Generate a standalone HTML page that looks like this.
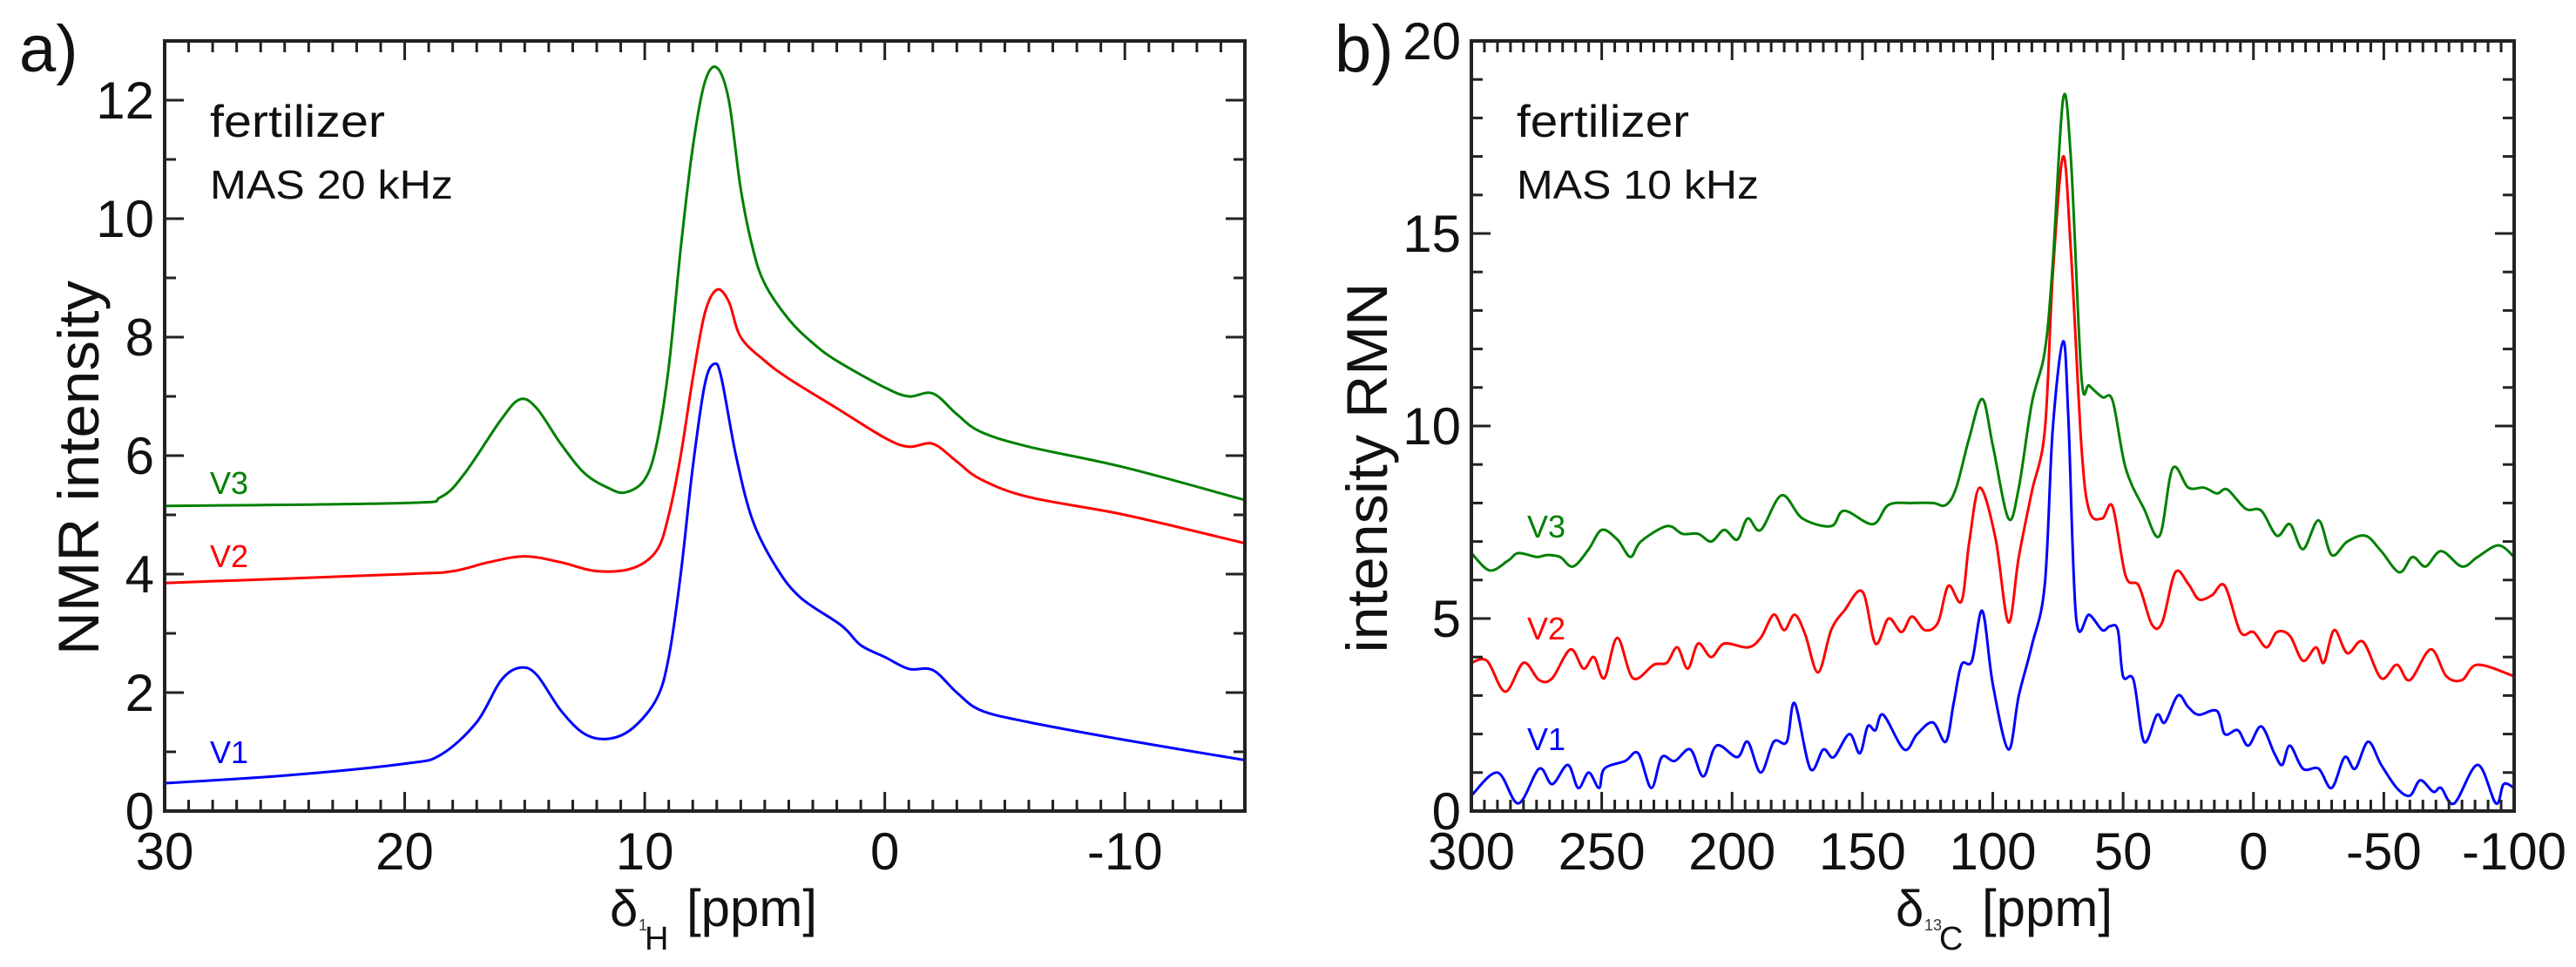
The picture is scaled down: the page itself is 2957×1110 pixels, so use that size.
<!DOCTYPE html>
<html><head><meta charset="utf-8"><style>
html,body{margin:0;padding:0;background:#fff}
svg{display:block;font-family:"Liberation Sans",sans-serif}
</style></head><body>
<svg id="fig" width="2957" height="1110" viewBox="0 0 2957 1110" xmlns="http://www.w3.org/2000/svg">
<g id="pa"></g>
<g id="pb"></g>
</svg>
<script>
// Panel a data (1H NMR)
const aV1x=[30,25,20,18.5,17,16,15.2,14.5,13.5,12.5,11.5,10.5,9.5,9,8.5,8,7.5,7.1,6.8,6.2,5.5,4.5,3.5,1.8,1,0,-1,-2,-3,-4,-6,-10,-15];
const aV1y=[0.47,0.6,0.8,0.95,1.5,2.2,2.42,2.3,1.7,1.3,1.22,1.4,1.9,2.6,4.0,5.8,7.2,7.55,7.3,6.0,4.9,4.1,3.6,3.13,2.8,2.6,2.4,2.38,2.0,1.7,1.5,1.2,0.86];
const aV2x=[30,20,18,16.5,15,13.5,12,10.5,9.5,9,8.5,8,7.5,7.0,6.5,6,5,4,2,0,-1,-2,-3,-4,-6,-10,-15];
const aV2y=[3.85,4.0,4.05,4.2,4.3,4.2,4.05,4.1,4.4,5.0,6.0,7.3,8.4,8.8,8.6,8.0,7.6,7.3,6.8,6.3,6.15,6.2,5.9,5.6,5.3,5.0,4.52];
const aV3x=[30,20,18.5,17.5,16,15.2,14.5,13.5,12.5,11.5,10.8,10,9.5,9,8.5,8,7.5,7.0,6.5,6,5.5,5,4,3,2,0,-1,-2,-3,-4,-6,-10,-15];
const aV3y=[5.15,5.2,5.3,5.7,6.6,6.95,6.8,6.2,5.7,5.45,5.38,5.6,6.2,7.5,9.5,11.2,12.3,12.55,12.0,10.5,9.5,8.9,8.3,7.9,7.6,7.15,7.0,7.05,6.7,6.4,6.15,5.8,5.25];
const aXTicks=[30,20,10,0,-10];
const aXTickLabels=["30","20","10","0","-10"];
const aYTicks=[0,2,4,6,8,10,12];
const aYTickLabels=["0","2","4","6","8","10","12"];
// Panel b data (13C NMR)
const bV1x=[300,290,282,274,269,263,259,255,251,249,241,236,231,227,222,216,211,206,198,194,189,184,179,176,170,165,161,155,151,148,145,142,134,129,123,118,115,112,108,104,100,94,90,85,80,77,73,71,68,63,58,55,52,50,46,42,37,34,29,25,21,14,11,6,2,-3,-8,-11,-14,-19,-25,-30,-35,-39,-44,-49,-55,-60,-64,-69,-72,-77,-86,-93,-96,-100];
const bV1y=[0.4,1.0,0.2,1.1,0.7,1.2,0.6,1.0,0.6,1.1,1.3,1.5,0.6,1.4,1.3,1.6,0.9,1.7,1.4,1.8,1.0,1.8,1.8,2.8,1.1,1.6,1.4,2.0,1.5,2.2,2.1,2.5,1.6,2.0,2.3,1.8,2.8,3.8,3.9,5.2,3.3,1.6,3.0,4.3,5.9,9.9,12.2,10.2,5.0,5.1,4.7,4.8,4.7,3.5,3.4,1.8,2.5,2.3,3.0,2.7,2.5,2.6,2.0,2.1,1.7,2.2,1.5,1.2,1.7,1.1,1.1,0.6,1.4,1.1,1.8,1.2,0.6,0.4,0.8,0.5,0.6,0.2,1.2,0.2,0.7,0.6];
const bV2x=[300,294,287,280,274,269,262,257,253,249,244,238,230,225,221,217,213,208,203,194,189,184,180,176,172,167,162,157,150,145,140,135,131,126,121,117,112,109,105,99,94,90,85,80,77,73,70,66,63,58,54,49,44,39,35,30,25,21,16,11,5,0,-5,-9,-14,-19,-24,-27,-31,-36,-42,-49,-55,-60,-68,-74,-80,-86,-100];
const bV2y=[3.85,3.9,3.1,3.85,3.4,3.45,4.2,3.7,4.0,3.45,4.5,3.45,3.8,3.85,4.25,3.7,4.35,4.0,4.35,4.25,4.5,5.1,4.7,5.1,4.6,3.6,4.7,5.2,5.7,4.35,5.0,4.65,5.05,4.7,4.9,5.85,5.45,7.0,8.4,7.1,4.9,6.6,8.3,9.9,13.9,17.0,14.5,9.5,7.8,7.6,7.9,6.1,5.85,4.85,4.9,6.2,5.9,5.5,5.6,5.85,4.65,4.65,4.25,4.65,4.55,3.9,4.25,3.85,4.7,4.1,4.4,3.45,3.8,3.4,4.2,3.5,3.4,3.8,3.5];
const bV3x=[300,293,286,282,275,271,266,261,255,250,244,239,235,225,219,213,208,203,198,194,189,181,173,162,157,146,140,131,123,118,114,109,104,100,94,90,85,80,77,73,70,66,63,58,54,49,42,36,31,25,19,14,10,3,-3,-9,-14,-19,-25,-30,-36,-43,-49,-56,-61,-66,-72,-80,-86,-94,-100];
const bV3y=[6.7,6.25,6.5,6.7,6.6,6.65,6.6,6.35,6.8,7.3,7.05,6.6,7.0,7.4,7.2,7.2,7.0,7.3,7.05,7.6,7.3,8.2,7.6,7.4,7.8,7.45,7.95,8.0,8.0,7.95,8.4,9.7,10.7,9.5,7.6,8.4,10.6,11.95,14.2,18.5,16.9,11.3,11.05,10.75,10.65,8.9,7.85,7.15,8.9,8.4,8.4,8.25,8.35,7.85,7.8,7.15,7.45,6.8,7.55,6.65,7.0,7.15,6.75,6.2,6.6,6.35,6.75,6.35,6.6,6.9,6.6];
const bXTicks=[300,250,200,150,100,50,0,-50,-100];
const bXTickLabels=["300","250","200","150","100","50","0","-50","-100"];
const bYTicks=[0,5,10,15,20];
const bYTickLabels=["0","5","10","15","20"];

const NS="http://www.w3.org/2000/svg";
function mk(parent,tag,attrs,text){const e=document.createElementNS(NS,tag);for(const k in attrs)e.setAttribute(k,attrs[k]);if(text!==undefined)e.textContent=text;parent.appendChild(e);return e;}
function smoothPath(pts){let d="M"+pts[0][0].toFixed(1)+","+pts[0][1].toFixed(1);
 for(let i=0;i<pts.length-1;i++){const p0=pts[i-1]||pts[i],p1=pts[i],p2=pts[i+1],p3=pts[i+2]||p2;
  const c1=[p1[0]+(p2[0]-p0[0])/6,p1[1]+(p2[1]-p0[1])/6],c2=[p2[0]-(p3[0]-p1[0])/6,p2[1]-(p3[1]-p1[1])/6];
  d+="C"+c1[0].toFixed(1)+","+c1[1].toFixed(1)+" "+c2[0].toFixed(1)+","+c2[1].toFixed(1)+" "+p2[0].toFixed(1)+","+p2[1].toFixed(1);}
 return d;}

function panel(g,cfg){
 const L=cfg.L,R=cfg.R,T=cfg.T,B=cfg.B;
 const sx=v=>L+(cfg.x0-v)/(cfg.x0-cfg.x1)*(R-L);
 const sy=v=>B-(v-cfg.y0)/(cfg.y1-cfg.y0)*(B-T);
 // curves
 cfg.series.forEach(s=>{
  const pts=s.x.map((xv,i)=>[sx(xv),sy(s.y[i])]);
  const p=mk(g,"path",{d:smoothPath(pts),fill:"none",stroke:s.color,"stroke-width":3,"stroke-linejoin":"round"});
  
  
  const t=mk(g,"text",{x:s.lx,y:s.ly,fill:s.color,"font-size":36},s.label);
  
  
 });
 // minor & major ticks
 for(let v=Math.min(cfg.x0,cfg.x1);v<=Math.max(cfg.x0,cfg.x1)+1e-9;v+=cfg.xMinor){
  const maj=Math.abs(v/cfg.xMajor-Math.round(v/cfg.xMajor))<1e-6, len=maj?22:13, x=sx(v);
  mk(g,"line",{x1:x,y1:B,x2:x,y2:B-len,stroke:"#222","stroke-width":3});
  mk(g,"line",{x1:x,y1:T,x2:x,y2:T+len,stroke:"#222","stroke-width":3});
 }
 for(let v=cfg.y0;v<=cfg.y1+1e-9;v+=cfg.yMinor){
  const maj=Math.abs(v/cfg.yMajor-Math.round(v/cfg.yMajor))<1e-6, len=maj?22:13, y=sy(v);
  mk(g,"line",{x1:L,y1:y,x2:L+len,y2:y,stroke:"#222","stroke-width":3});
  mk(g,"line",{x1:R,y1:y,x2:R-len,y2:y,stroke:"#222","stroke-width":3});
 }
 const fr=mk(g,"rect",{x:L,y:T,width:R-L,height:B-T,fill:"none",stroke:"#222","stroke-width":4});
 
 
 cfg.xt.forEach((v,i)=>{const t=mk(g,"text",{x:sx(v),y:B+67,"font-size":60,"text-anchor":"middle",fill:"#111"},cfg.xtl[i]);
  
  });
 cfg.yt.forEach((v,i)=>{const t=mk(g,"text",{x:L-12,y:sy(v)+21,"font-size":60,"text-anchor":"end",fill:"#111"},cfg.ytl[i]);
  
  });
}

const ga=document.getElementById("pa"), gb=document.getElementById("pb");
panel(ga,{id:"a",L:189,R:1429,T:47,B:931,x0:30,x1:-15,y0:0,y1:13,xMinor:1,xMajor:10,yMinor:1,yMajor:2,
 xt:aXTicks,xtl:aXTickLabels,yt:aYTicks,ytl:aYTickLabels,
 series:[{x:aV1x,y:aV1y,color:"#0000ff",name:"series-v1",label:"V1",lx:241,ly:876},
         {x:aV2x,y:aV2y,color:"#ff0000",name:"series-v2",label:"V2",lx:241,ly:651},
         {x:aV3x,y:aV3y,color:"#008000",name:"series-v3",label:"V3",lx:241,ly:567}]});
panel(gb,{id:"b",L:1689,R:2886,T:47,B:931,x0:300,x1:-100,y0:0,y1:20,xMinor:5,xMajor:50,yMinor:1,yMajor:5,
 xt:bXTicks,xtl:bXTickLabels,yt:bYTicks,ytl:bYTickLabels,
 series:[{x:bV1x,y:bV1y,color:"#0000ff",name:"series-v1",label:"V1",lx:1753,ly:861},
         {x:bV2x,y:bV2y,color:"#ff0000",name:"series-v2",label:"V2",lx:1753,ly:734},
         {x:bV3x,y:bV3y,color:"#008000",name:"series-v3",label:"V3",lx:1753,ly:617}]});
</script>
<svg width="0" height="0" style="position:absolute"></svg>
<div style="position:absolute;left:0;top:0;width:2957px;height:1110px;pointer-events:none">
<svg width="2957" height="1110" viewBox="0 0 2957 1110" style="font-family:'Liberation Sans',sans-serif">
<text x="22" y="82" font-size="76" fill="#111">a)</text>
<text x="1532" y="82" font-size="76" fill="#111">b)</text>
<text x="241" y="157" font-size="52" textLength="201" lengthAdjust="spacingAndGlyphs" fill="#111">fertilizer</text>
<text x="241" y="228" font-size="46" textLength="279" lengthAdjust="spacingAndGlyphs" fill="#111">MAS 20 kHz</text>
<text x="1741" y="157" font-size="52" textLength="198" lengthAdjust="spacingAndGlyphs" fill="#111">fertilizer</text>
<text x="1741" y="228" font-size="46" textLength="278" lengthAdjust="spacingAndGlyphs" fill="#111">MAS 10 kHz</text>
<text transform="translate(113,537) rotate(-90)" text-anchor="middle" font-size="66" textLength="430" lengthAdjust="spacingAndGlyphs" fill="#111">NMR intensity</text>
<text transform="translate(1592,537) rotate(-90)" text-anchor="middle" font-size="66" textLength="425" lengthAdjust="spacingAndGlyphs" fill="#111">intensity RMN</text>
<g fill="#111">
<text x="700" y="1063" font-size="58">δ</text>
<text x="733" y="1068" font-size="18" fill="#334">1</text>
<text x="740" y="1090" font-size="38">H</text>
<text x="788" y="1063" font-size="60">[ppm]</text>
</g>
<g fill="#111">
<text x="2176" y="1063" font-size="58">δ</text>
<text x="2209" y="1068" font-size="18" fill="#334">13</text>
<text x="2226" y="1090" font-size="38">C</text>
<text x="2275" y="1063" font-size="60">[ppm]</text>
</g>
</svg></div>
</body></html>
